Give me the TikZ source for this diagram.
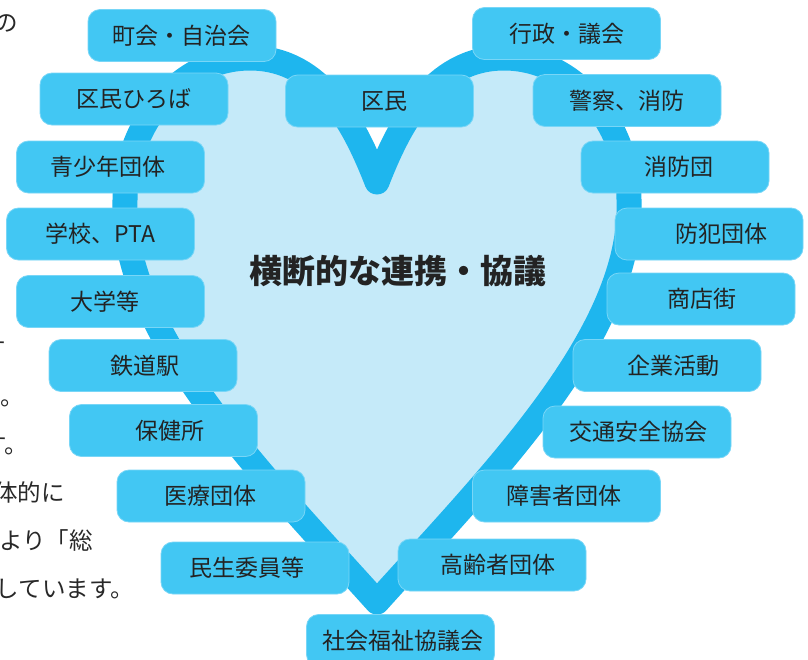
\documentclass[tikz,border=0pt]{standalone}
\usepackage{fontspec}
\newfontfamily\jp{Noto Sans CJK JP}
\definecolor{heartfill}{RGB}{197,234,249}
\definecolor{heartline}{RGB}{30,182,238}
\definecolor{boxfill}{RGB}{66,199,243}
\definecolor{boxedge}{RGB}{120,214,247}
\definecolor{txt}{RGB}{35,35,35}
\newcommand\mklabel[5]{\node[lbl] (#1) at (#2,#3) {\makebox[0pt]{\hspace*{#4pt}\hspace*{#4pt}#5}};}
\begin{document}
\begin{tikzpicture}[x=1pt,y=-1pt,
  heartshape/.style={fill=heartfill, draw=heartline, line width=25pt, line join=round},
  lbl/.style={rounded corners=12pt, fill=boxfill, draw=boxedge, line width=0.8pt,
    minimum width=188pt, minimum height=52pt, inner sep=0pt,
    text height=20pt, text depth=3pt,
    font=\jp\fontsize{23}{23}\selectfont, text=txt},
  titletext/.style={font=\jp\bfseries\fontsize{33}{33}\selectfont, text=txt, inner sep=0pt},
  sidetext/.style={font=\jp\fontsize{23.5}{23.5}\selectfont, text={rgb,255:red,40;green,40;blue,40},
    anchor=east, inner sep=0pt, text height=20.7pt, text depth=2.8pt}]
\fill[white] (0,0) rectangle (808,659);
\useasboundingbox (0,0) rectangle (808,659);
% side text fragments (cut off at the left edge, as in the reference)
\node[sidetext] (s0) at (18,22.5) {の};
\node[sidetext] (s1) at (6,349) {す};
\node[sidetext] (s2) at (24,397) {。};
\node[sidetext] (s3) at (28,445) {す。};
\node[sidetext] (s4) at (65,493) {体的に};
\node[sidetext] (s5) at (93,541) {より「総};
\node[sidetext] (s6) at (134,589) {しています。};
% heart
\draw[heartshape] (377,602)
  .. controls (260,472) and (120,332) .. (125,200)
  .. controls (125,125) and (180,58) .. (250,58)
  .. controls (322,58) and (356,128) .. (377,182)
  .. controls (398,128) and (432,58) .. (504,58)
  .. controls (574,58) and (629,125) .. (629,200)
  .. controls (634,332) and (494,472) .. (377,602) -- cycle;
\node[titletext] (title) at (398,271) {横断的な連携・協議};
% labels
\mklabel{chokai}{182}{35.5}{-1}{町会・自治会}
\mklabel{gyosei}{566.5}{33.5}{0}{行政・議会}
\mklabel{hiroba}{134}{99}{0}{区民ひろば}
\mklabel{kumin}{379.5}{101}{5}{区民}
\mklabel{keisatsu}{627}{100.5}{0}{警察、消防}
\mklabel{seisho}{110.5}{167}{-3}{青少年団体}
\mklabel{shobodan}{675}{167}{4}{消防団}
\mklabel{gakko}{100.5}{234}{0}{学校、PTA}
\mklabel{bohan}{709}{234}{12}{防犯団体}
\mklabel{daigaku}{110.5}{301.5}{-6}{大学等}
\mklabel{shoten}{701}{299}{1}{商店街}
\mklabel{tetsudo}{143}{365.5}{2}{鉄道駅}
\mklabel{kigyo}{667}{365.5}{6}{企業活動}
\mklabel{hoken}{163.5}{430.5}{6.5}{保健所}
\mklabel{kotsu}{637}{432}{1}{交通安全協会}
\mklabel{iryo}{211}{496}{-1}{医療団体}
\mklabel{shogai}{566.5}{496}{-3}{障害者団体}
\mklabel{minsei}{255}{568}{-8.5}{民生委員等}
\mklabel{korei}{492}{565}{6}{高齢者団体}
\mklabel{shakyo}{400.5}{640.5}{2.5}{社会福祉協議会}
\end{tikzpicture}
\end{document}
